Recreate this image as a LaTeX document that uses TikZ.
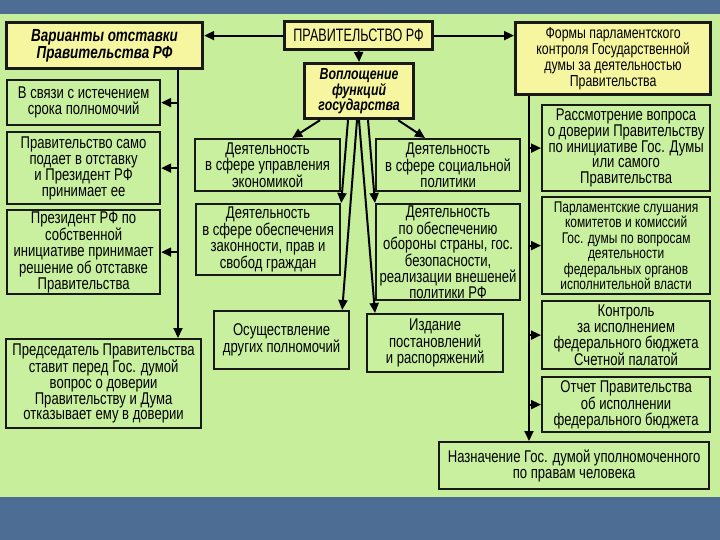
\documentclass[tikz,border=0pt]{standalone}
\usepackage{fontspec}
\setmainfont{Liberation Sans}[FakeStretch=0.77]
\newfontfamily\capsfont{Liberation Sans}[FakeStretch=0.70]
\usetikzlibrary{arrows.meta}
\definecolor{bggreen}{RGB}{198,238,155}
\definecolor{boxgreen}{RGB}{200,240,158}
\definecolor{boxyellow}{RGB}{246,246,160}
\definecolor{bandblue}{RGB}{78,109,148}
\tikzset{
  gbox/.style={draw=black!90, line width=2.2pt, fill=boxgreen, align=center, inner sep=0pt,
    anchor=north west, font=\fontsize{17}{15.8}\selectfont},
  ybox/.style={gbox, fill=boxyellow, line width=3.2pt},
  arr/.style={line width=2pt, -{Triangle[length=10pt,width=9pt]}}
}
\begin{document}
\begin{tikzpicture}[x=1pt,y=-1pt]
\useasboundingbox (0,0) rectangle (720,540);
\fill[bggreen] (0,0) rectangle (720,540);
\fill[bandblue] (0,0) rectangle (720,14);
\fill[bandblue] (0,497) rectangle (720,540);

% left column
\node[ybox, minimum width=196pt, minimum height=46pt, font=\fontsize{17.5}{15.5}\selectfont\bfseries\itshape] (b1) at (5,21) {Варианты отставки\\Правительства РФ};
\node[gbox, minimum width=153pt, minimum height=45pt] (b2) at (6,79) {В связи с истечением\\срока полномочий};
\node[gbox, minimum width=153pt, minimum height=72pt, font=\fontsize{17}{16}\selectfont] (b3) at (6,131) {Правительство само\\подает в отставку\\и Президент РФ\\принимает ее};
\node[gbox, minimum width=153pt, minimum height=84pt] (b4) at (6,209) {Президент РФ по\\собственной\\инициативе принимает\\решение об отставке\\Правительства};
\node[gbox, minimum width=195pt, minimum height=89pt] (b5) at (5,338) {Председатель Правительства\\ставит перед Гос. думой\\вопрос о доверии\\Правительству и Дума\\отказывает ему в доверии};

% centre
\node[ybox, minimum width=148pt, minimum height=28pt, font=\fontsize{18}{18}\capsfont] (gov) at (283,20) {ПРАВИТЕЛЬСТВО РФ};
\node[ybox, minimum width=109pt, minimum height=55pt, font=\fontsize{16}{15}\selectfont\bfseries\itshape] (voz) at (303,62) {Воплощение\\функций\\государства};
\node[gbox, minimum width=145pt, minimum height=52pt] (m1) at (194,138) {Деятельность\\в сфере управления\\экономикой};
\node[gbox, minimum width=144pt, minimum height=52pt] (m2) at (375,138) {Деятельность\\в сфере социальной\\политики};
\node[gbox, minimum width=144pt, minimum height=71pt] (m3) at (195,203) {Деятельность\\в сфере обеспечения\\законности, прав и\\свобод граждан};
\node[gbox, minimum width=144pt, minimum height=96pt] (m4) at (375,203) {Деятельность\\по обеспечению\\обороны страны, гос.\\безопасности,\\реализации внешеней\\политики РФ};
\node[gbox, minimum width=135pt, minimum height=58pt] (m5) at (213,310) {Осуществление\\других полномочий};
\node[gbox, minimum width=136pt, minimum height=58pt] (m6) at (366,313) {Издание\\постановлений\\и распоряжений};

% right column
\node[ybox, minimum width=195pt, minimum height=72pt, font=\fontsize{16}{16}\selectfont] (frm) at (514,21) {Формы парламентского\\контроля Государственной\\думы за деятельностью\\Правительства};
\node[gbox, minimum width=168pt, minimum height=86pt] (r1) at (541,104) {Рассмотрение вопроса\\о доверии Правительству\\по инициативе Гос. Думы\\или самого\\Правительства};
\node[gbox, minimum width=168pt, minimum height=97pt, font=\fontsize{15.5}{15.5}\selectfont] (r2) at (541,196) {Парламентские слушания\\комитетов и комиссий\\Гос. думы по вопросам\\деятельности\\федеральных органов\\исполнительной власти};
\node[gbox, minimum width=168pt, minimum height=68pt] (r3) at (541,300) {Контроль\\за исполнением\\федерального бюджета\\Счетной палатой};
\node[gbox, minimum width=168pt, minimum height=55pt] (r4) at (541,376) {Отчет Правительства\\об исполнении\\федерального бюджета};
\node[gbox, minimum width=270pt, minimum height=47pt] (naz) at (438,441) {Назначение Гос. думой уполномоченного\\по правам человека};

% connectors
\draw[arr] (gov.west) -- (gov.west -| b1.east);
\draw[arr] (gov.east) -- (gov.east -| frm.west);
\draw[arr] (gov.south) -- (voz.north);

\coordinate (lt) at (178,67);
\draw[arr] (b1.south -| lt) -- (b5.north -| lt);
\draw[arr] (lt |- b2.east) -- (b2.east);
\draw[arr] (lt |- b3.east) -- (b3.east);
\draw[arr] (lt |- b4.east) -- (b4.east);

\coordinate (rt) at (529,93);
\draw[arr] (frm.south -| rt) -- (naz.north -| rt);
\draw[arr] (rt |- r1.west) -- (r1.west);
\draw[arr] (rt |- r2.west) -- (r2.west);
\draw[arr] (rt |- r3.west) -- (r3.west);
\draw[arr] (rt |- r4.west) -- (r4.west);

\draw[arr] ([xshift=17pt]voz.south west) -- ([xshift=-49pt]m1.north east);
\draw[arr] ([xshift=-17pt]voz.south east) -- ([xshift=50pt]m2.north west);
\draw[arr] ([xshift=45pt]voz.south west) -- (m3.north east);
\draw[arr] ([xshift=54pt]voz.south west) -- ([xshift=-8pt]m5.north east);
\draw[arr] ([xshift=56pt]voz.south west) -- ([xshift=9pt]m6.north west);
\draw[arr] ([xshift=65pt]voz.south west) -- (m4.north west);
\end{tikzpicture}
\end{document}
